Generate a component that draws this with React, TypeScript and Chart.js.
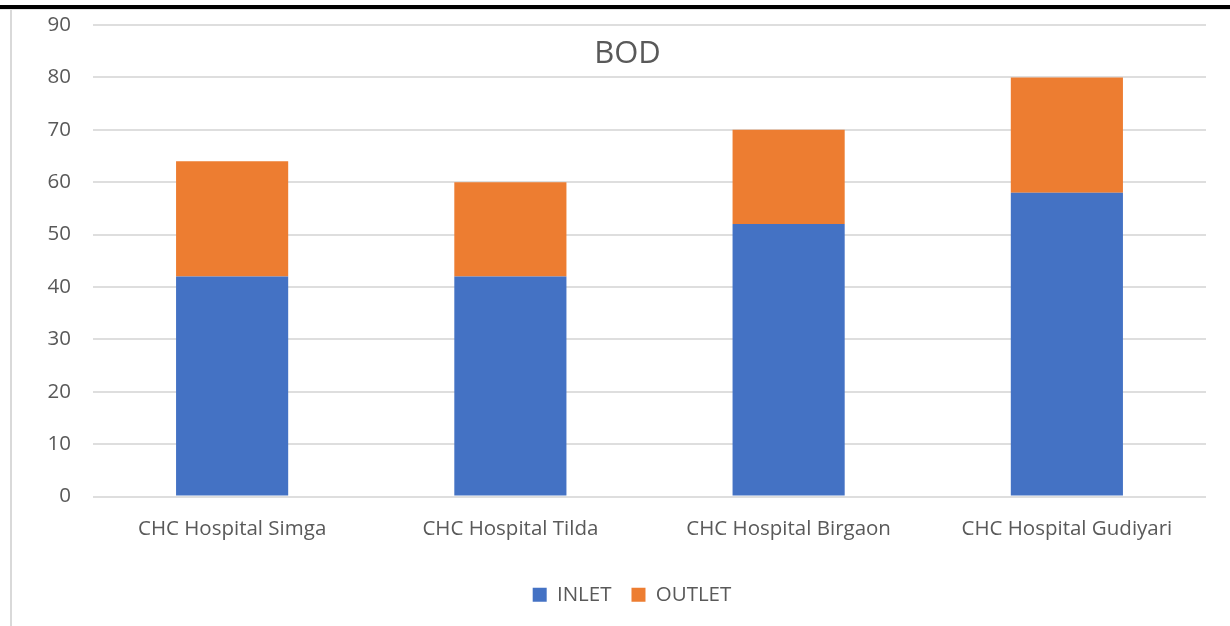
import React, { useEffect, useRef } from "react";
import { Chart, registerables } from "chart.js";

Chart.register(...registerables);

const categories = [
  "CHC Hospital Simga",
  "CHC Hospital Tilda",
  "CHC Hospital Birgaon",
  "CHC Hospital Gudiyari",
];
const inletValues = [42, 42, 52, 58];
const outletValues = [22, 18, 18, 22];
const seriesNames = ["INLET", "OUTLET"];
const chartTitle = "BOD";
const yMin = 0;
const yMax = 90;
const yStep = 10;

const FONT = '"Open Sans", "DejaVu Sans", sans-serif';
const TEXT = "#595959";
const FS = 20.5;

const overlayTitle = {
  id: "overlayTitle",
  afterLayout(chart: any) {
    const lg = chart.legend;
    if (lg) {
      lg.left += 29;
      lg.right += 29;
    }
  },
  afterDraw(chart: any) {
    const { ctx, chartArea } = chart;
    ctx.save();
    ctx.font = `31px ${FONT}`;
    ctx.fillStyle = TEXT;
    ctx.textAlign = "center";
    ctx.textBaseline = "middle";
    ctx.fillText(chartTitle, (chartArea.left + chartArea.right) / 2 - 22, chartArea.top + 29);
    ctx.restore();
  },
};

export default function App() {
  const ref = useRef<HTMLCanvasElement | null>(null);

  useEffect(() => {
    if (!ref.current) return;
    const chart = new Chart(ref.current, {
      type: "bar",
      data: {
        labels: categories,
        datasets: [
          {
            label: seriesNames[0],
            data: inletValues,
            backgroundColor: "#4472C4",
            barPercentage: 0.403,
            categoryPercentage: 1,
          },
          {
            label: seriesNames[1],
            data: outletValues,
            backgroundColor: "#ED7D31",
            barPercentage: 0.403,
            categoryPercentage: 1,
          },
        ],
      },
      options: {
        responsive: false,
        animation: false,
        layout: { padding: { top: 25, right: 24, left: 0, bottom: 11 } },
        plugins: {
          title: { display: false },
          tooltip: { enabled: false },
          legend: {
            position: "bottom",
            labels: {
              boxWidth: 14,
              boxHeight: 14,
              padding: 20,
              color: TEXT,
              font: { size: FS, family: FONT },
            },
          },
        },
        scales: {
          x: {
            stacked: true,
            grid: { display: false, drawTicks: false },
            border: { display: false },
            ticks: { color: TEXT, font: { size: FS, family: FONT }, padding: 20 },
            afterFit(s: any) {
              s.height = 68;
              s.paddingLeft = 0;
              s.paddingRight = 0;
            },
          },
          y: {
            stacked: true,
            min: yMin,
            max: yMax,
            ticks: { stepSize: yStep, padding: 22, color: TEXT, font: { size: FS, family: FONT } },
            grid: { color: "#dedede", lineWidth: 2, drawTicks: false },
            border: { display: false },
            afterFit(s: any) {
              s.width = 93;
              s.paddingTop = 0;
              s.paddingBottom = 0;
            },
          },
        },
      },
      plugins: [overlayTitle],
    });
    return () => chart.destroy();
  }, []);

  return (
    <div style={{ position: "fixed", left: 0, top: 0, width: 1230, height: 626, background: "#fff" }}>
      <div style={{ position: "absolute", left: 0, top: 5, width: 1230, height: 4, background: "#000" }} />
      <div style={{ position: "absolute", left: 0, top: 9, width: 1230, height: 1, background: "#e4e4e4" }} />
      <div style={{ position: "absolute", left: 10, top: 10, width: 2, height: 616, background: "#d9d9d9" }} />
      <canvas ref={ref} width={1230} height={626} style={{ position: "absolute", left: 0, top: 0 }} />
    </div>
  );
}
